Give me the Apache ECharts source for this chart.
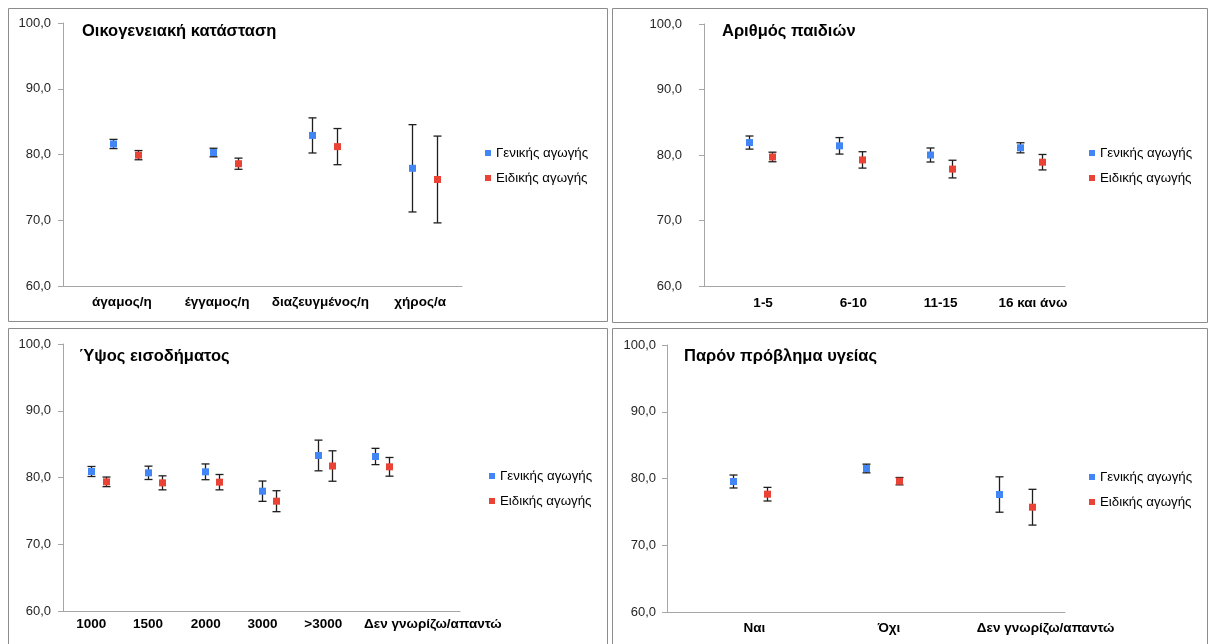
<!DOCTYPE html>
<html>
<head>
<meta charset="utf-8">
<script src="https://cdn.jsdelivr.net/npm/echarts@6/dist/echarts.min.js"></script>
<style>
html,body{margin:0;padding:0;background:#fff;}
#chart{width:1209px;height:644px;}
</style>
</head>
<body>
<div id="chart"></div>
<script>
// ---- data ----
const seriesNames = ['Γενικής αγωγής', 'Ειδικής αγωγής'];

const famTitle = 'Οικογενειακή κατάσταση';
const famCats = ['άγαμος/η', 'έγγαμος/η', 'διαζευγμένος/η', 'χήρος/α'];
const famGenMean = [81.6, 80.3, 82.9, 77.9];
const famGenErr = [0.7, 0.65, 2.67, 6.64];
const famSpeMean = [79.9, 78.6, 81.2, 76.2];
const famSpeErr = [0.7, 0.85, 2.75, 6.6];

const kidTitle = 'Αριθμός παιδιών';
const kidCats = ['1-5', '6-10', '11-15', '16 και άνω'];
const kidGenMean = [81.9, 81.4, 80.0, 81.1];
const kidGenErr = [1.0, 1.26, 1.07, 0.77];
const kidSpeMean = [79.7, 79.25, 77.85, 78.9];
const kidSpeErr = [0.73, 1.25, 1.35, 1.18];

const incTitle = 'Ύψος εισοδήματος';
const incCats = ['1000', '1500', '2000', '3000', '>3000', 'Δεν γνωρίζω/απαντώ', ''];
const incGenMean = [80.9, 80.7, 80.85, 77.95, 83.3, 83.15];
const incGenErr = [0.75, 1.0, 1.18, 1.52, 2.3, 1.22];
const incSpeMean = [79.35, 79.2, 79.3, 76.45, 81.72, 81.6];
const incSpeErr = [0.72, 1.05, 1.15, 1.57, 2.28, 1.4];

const hltTitle = 'Παρόν πρόβλημα υγείας';
const hltCats = ['Ναι', 'Όχι', 'Δεν γνωρίζω/απαντώ'];
const hltGenMean = [79.55, 81.5, 77.6];
const hltGenErr = [0.97, 0.65, 2.65];
const hltSpeMean = [77.65, 79.6, 75.7];
const hltSpeErr = [1.02, 0.55, 2.68];

const yTicks = [60, 70, 80, 90, 100];

// ---- layout / style ----
const FONT = '"Liberation Sans", Arial, sans-serif';
const BLUE = '#4285f4';
const RED = '#ea4335';
const panels = [
  {title: famTitle, cats: famCats, g: famGenMean, ge: famGenErr, s: famSpeMean, se: famSpeErr,
   grid: {left: 63, top: 23, width: 399, height: 263}, titlePos: [82, 23], legendPos: [485, 146],
   yMargin: 12, xMargin: 9, labelShift: [18, 9, 16, 16], box: [8.5, 8.5, 599, 313]},
  {title: kidTitle, cats: kidCats, g: kidGenMean, ge: kidGenErr, s: kidSpeMean, se: kidSpeErr,
   grid: {left: 704, top: 24, width: 361, height: 262}, titlePos: [722, 23], legendPos: [1089, 146],
   yMargin: 22, xMargin: 10, labelShift: [28, 28, 22, 26], box: [612.5, 8.5, 595, 314]},
  {title: incTitle, cats: incCats, g: incGenMean, ge: incGenErr, s: incSpeMean, se: incSpeErr,
   grid: {left: 63, top: 344, width: 397, height: 267}, titlePos: [79, 348], legendPos: [489, 469],
   yMargin: 12, xMargin: 6, labelShift: [0, 0, 2, 2, 10, 116, 0], box: [8.5, 328.5, 599, 330]},
  {title: hltTitle, cats: hltCats, g: hltGenMean, ge: hltGenErr, s: hltSpeMean, se: hltSpeErr,
   grid: {left: 667, top: 345, width: 398, height: 267}, titlePos: [684, 348], legendPos: [1089, 470],
   yMargin: 11, xMargin: 9, labelShift: [42, 46, 94], box: [612.5, 328.5, 595, 330]}
];

function errSeries(pi, name, means, errs, color, shift) {
  return {
    type: 'custom', name: name, xAxisIndex: pi, yAxisIndex: pi,
    itemStyle: {color: color},
    data: means.map((m, i) => [i, m, m - errs[i], m + errs[i]]),
    encode: {x: 0, y: [1, 2, 3]},
    renderItem: function (params, api) {
      const i = api.value(0);
      const c = api.coord([i, api.value(1)]);
      const lo = api.coord([i, api.value(2)]);
      const hi = api.coord([i, api.value(3)]);
      const band = api.size([1, 0])[0];
      const x = Math.round(c[0] + band * shift) + 0.5;
      const cap = 4;
      const ls = {stroke: '#1e1e1e', lineWidth: 1.3};
      return {type: 'group', children: [
        {type: 'line', shape: {x1: x, y1: hi[1], x2: x, y2: lo[1]}, style: ls},
        {type: 'line', shape: {x1: x - cap, y1: hi[1], x2: x + cap, y2: hi[1]}, style: ls},
        {type: 'line', shape: {x1: x - cap, y1: lo[1], x2: x + cap, y2: lo[1]}, style: ls},
        {type: 'rect', shape: {x: x - 3.5, y: c[1] - 3.5, width: 7, height: 7}, style: {fill: color}}
      ]};
    }
  };
}

const option = {
  animation: false,
  backgroundColor: '#fff',
  textStyle: {fontFamily: FONT},
  title: panels.map(p => ({
    text: p.title, left: p.titlePos[0], top: p.titlePos[1], padding: 0,
    textStyle: {fontSize: 16.5, fontWeight: 'bold', color: '#000', fontFamily: FONT}
  })),
  legend: panels.map(p => ({
    orient: 'vertical', left: p.legendPos[0], top: p.legendPos[1], padding: 0,
    itemWidth: 6, itemHeight: 6, itemGap: 11, selectedMode: false,
    textStyle: {fontSize: 13.3, color: '#000', lineHeight: 14, fontFamily: FONT},
    data: seriesNames.map(n => ({name: n, icon: 'rect'}))
  })),
  grid: panels.map(p => Object.assign({containLabel: false}, p.grid)),
  xAxis: panels.map((p, pi) => ({
    type: 'category', gridIndex: pi, boundaryGap: true,
    data: p.cats.map((c, i) => ({value: c, textStyle: {padding: [0, 0, 0, p.labelShift[i] || 0]}})),
    axisLine: {show: true, lineStyle: {color: '#a6a6a6', width: 1}},
    axisTick: {show: false},
    axisLabel: {interval: 0, margin: p.xMargin, fontSize: 13.5, fontWeight: 'bold', color: '#000', fontFamily: FONT},
    splitLine: {show: false}
  })),
  yAxis: panels.map((p, pi) => ({
    type: 'value', gridIndex: pi, min: yTicks[0], max: yTicks[yTicks.length - 1], interval: 10,
    axisLine: {show: true, lineStyle: {color: '#a6a6a6', width: 1}},
    axisTick: {show: true, length: 5, lineStyle: {color: '#a6a6a6'}},
    axisLabel: {margin: p.yMargin, fontSize: 13, color: '#262626', fontFamily: FONT,
      formatter: v => v.toFixed(1).replace('.', ',')},
    splitLine: {show: false}
  })),
  graphic: panels.map(p => ({
    type: 'rect', silent: true, z: 0,
    shape: {x: p.box[0], y: p.box[1], width: p.box[2], height: p.box[3]},
    style: {fill: null, stroke: '#8c8c8c', lineWidth: 1}
  })),
  series: []
};
panels.forEach((p, pi) => {
  option.series.push(errSeries(pi, seriesNames[0], p.g, p.ge, BLUE, 0));
  option.series.push(errSeries(pi, seriesNames[1], p.s, p.se, RED, 0.25));
});

const chart = echarts.init(document.getElementById('chart'), null, {renderer: 'canvas', width: 1209, height: 644});
chart.setOption(option);
</script>
</body>
</html>
